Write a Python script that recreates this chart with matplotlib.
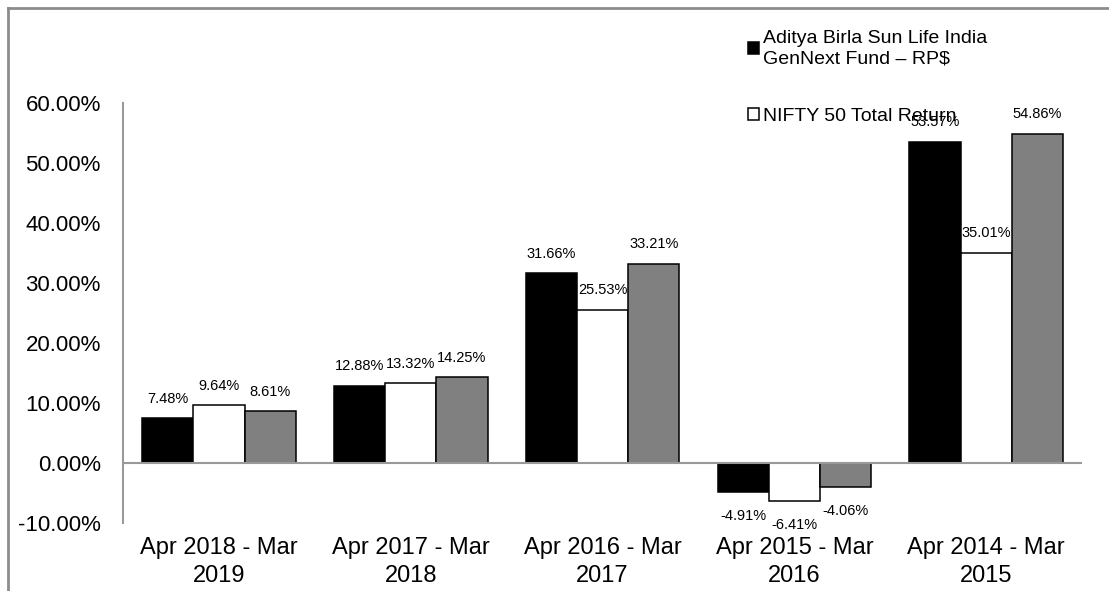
import matplotlib
matplotlib.use('Agg')
import matplotlib.pyplot as plt
from matplotlib.lines import Line2D
import numpy as np

plt.rcParams['font.family'] = ['Liberation Sans', 'DejaVu Sans']

# data
periods = ['Apr 2018 - Mar\n2019', 'Apr 2017 - Mar\n2018', 'Apr 2016 - Mar\n2017',
           'Apr 2015 - Mar\n2016', 'Apr 2014 - Mar\n2015']
fund_name = 'Aditya Birla Sun Life India\nGenNext Fund \u2013 RP$'
bench_name = 'NIFTY 50 Total Return'
addl_name = 'S&P BSE SENSEX TRI'
fund = [7.48, 12.88, 31.66, -4.91, 53.57]
bench = [9.64, 13.32, 25.53, -6.41, 35.01]
addl = [8.61, 14.25, 33.21, -4.06, 54.86]

series = [(fund_name, fund, '#000000'),
          (bench_name, bench, '#ffffff'),
          (addl_name, addl, '#808080')]

fig = plt.figure(figsize=(11.09, 5.91), dpi=100)
ax = fig.add_axes([0.1109, 0.1151, 0.8648, 0.7106])

x = np.arange(len(periods))
width = 0.267
for i, (name, vals, color) in enumerate(series):
    pos = x + (i - 1) * width
    ax.bar(pos, vals, width, color=color, edgecolor='black', linewidth=1.1,
           label=name if i < 2 else '_nolegend_', zorder=3)
    for px, v in zip(pos, vals):
        off = 14 if v >= 0 else -17
        ax.annotate(f'{v:.2f}%', (px, v), xytext=(0, off), textcoords='offset points',
                    ha='center', va='center', fontsize=10.5)

ax.set_ylim(-10, 60)
ax.set_xlim(-0.5, len(periods) - 0.5)
ax.set_yticks(np.arange(-10, 61, 10))
ax.set_yticklabels([f'{t:.2f}%' for t in np.arange(-10, 61, 10)], fontsize=16)
ax.set_xticks(x)
ax.set_xticklabels(periods, fontsize=17, linespacing=1.35)
ax.tick_params(axis='y', length=0, pad=16)
ax.tick_params(axis='x', length=0, pad=10)

for s in ['top', 'right', 'bottom']:
    ax.spines[s].set_visible(False)
ax.spines['left'].set_color('#999999')
ax.spines['left'].set_linewidth(1.5)
ax.axhline(0, color='#999999', linewidth=1.5, zorder=4)

ax.legend(loc='upper left', bbox_to_anchor=(0.666, 0.965), bbox_transform=fig.transFigure,
          frameon=False, fontsize=14, handlelength=0.55, handleheight=0.55,
          handletextpad=0.2, labelspacing=2.1, borderpad=0)

# outer chart frame
fig.add_artist(Line2D([8 / 1109, 8 / 1109], [0, 1 - 8 / 591], color='#8c8c8c', linewidth=2))
fig.add_artist(Line2D([8 / 1109, 1], [1 - 8 / 591, 1 - 8 / 591], color='#8c8c8c', linewidth=2))

fig.savefig('out.png', dpi=100)
